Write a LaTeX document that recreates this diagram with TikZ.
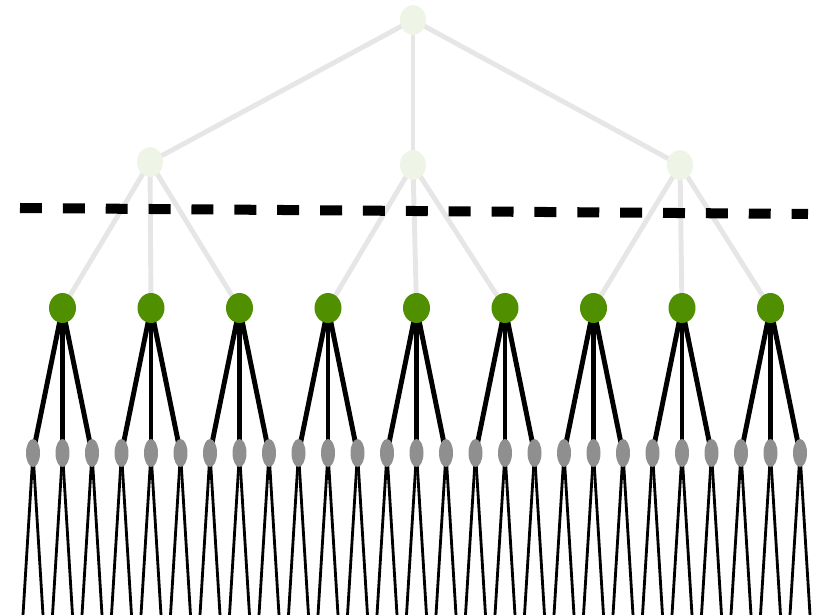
\documentclass[tikz,border=0pt]{standalone}
\usepackage{xcolor}
\usetikzlibrary{shapes, backgrounds, calc}
\definecolor{palegreen}{HTML}{EEF4E6}
\definecolor{leafgreen}{HTML}{4F8F00}
\definecolor{tipgray}{HTML}{8F8F8F}
\definecolor{edgegray}{HTML}{E6E6E6}

\begin{document}
\begin{tikzpicture}[x=0.02cm, y=-0.02cm,
    topnode/.style={ellipse, fill=palegreen, minimum width=0.52cm, minimum height=0.6cm, inner sep=0pt},
    leafnode/.style={ellipse, fill=leafgreen, minimum width=0.54cm, minimum height=0.6cm, inner sep=0pt},
    tipnode/.style={ellipse, fill=tipgray, minimum width=0.28cm, minimum height=0.56cm, inner sep=0pt},
    softedge/.style={draw=edgegray, line width=2.8pt},
    hardedge/.style={draw=black, line width=2.8pt},
    thinedge/.style={draw=black, line width=1.6pt}]

    \useasboundingbox (0,0) rectangle (826,615);
    \clip (0,0) rectangle (826,615);

    % upper levels
    \node[topnode] (root) at (413,20) {};
    \node[topnode] (mid1) at (150,162) {};
    \node[topnode] (mid2) at (413,165) {};
    \node[topnode] (mid3) at (680,165) {};

    % green and gray levels
    \foreach \i in {0,...,8}
        \node[leafnode] (g\i) at ({62.5+88.5*\i},308) {};
    \foreach \k in {0,...,26}
        \node[tipnode] (t\k) at ({33+29.5*\k},453) {};

    % free ends below the page
    \foreach \k in {0,...,26} {
        \coordinate (tl\k) at ($(t\k)+(-10.5,170)$);
        \coordinate (tr\k) at ($(t\k)+(10.5,170)$);
    }

    \begin{scope}[on background layer]
        \foreach \m in {mid1,mid2,mid3}
            \draw[softedge] (root.center) -- (\m.center);
        \foreach \m/\a/\b/\c in {mid1/0/1/2, mid2/3/4/5, mid3/6/7/8} {
            \draw[softedge] (\m.center) -- (g\a.center);
            \draw[softedge] (\m.center) -- (g\b.center);
            \draw[softedge] (\m.center) -- (g\c.center);
        }
        \foreach \i in {0,...,8}
            \foreach \j in {0,1,2} {
                \pgfmathtruncatemacro{\k}{3*\i+\j}
                \draw[hardedge] (g\i.center) -- (t\k.center);
            }
        \foreach \k in {0,...,26} {
            \draw[thinedge] (t\k.center) -- (tl\k);
            \draw[thinedge] (t\k.center) -- (tr\k);
        }
    \end{scope}

    % cut line
    \coordinate (cutL) at (20,208);
    \coordinate (cutR) at (808,214);
    \draw[line width=5.7pt, dash pattern=on 12.5pt off 11.9pt] (cutL) -- (cutR);
\end{tikzpicture}
\end{document}
